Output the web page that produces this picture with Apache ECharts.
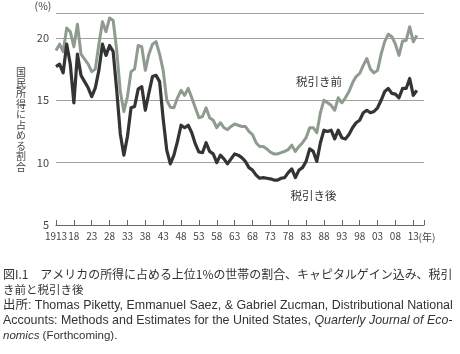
<!DOCTYPE html>
<html>
<head>
<meta charset="utf-8">
<script src="https://cdn.jsdelivr.net/npm/echarts@6/dist/echarts.min.js"></script>
<style>
html,body{margin:0;padding:0;background:#fff;}
#c{width:460px;height:354px;}
</style>
</head>
<body>
<div id="c"></div>
<script>
// ---- data ----
const startYear = 1913;
const years = [];
for (let y = 1913; y <= 2014; y++) years.push(y);

const preTax = [
  19.0, 19.5, 18.9, 20.8, 20.5, 19.3, 21.1, 18.7, 18.3, 17.9,
  17.3, 17.5, 19.5, 21.3, 20.5, 21.6, 21.4, 19.0, 15.7, 14.1,
  15.3, 17.3, 17.5, 19.4, 19.3, 17.4, 18.7, 19.5, 19.7, 18.7,
  17.4, 15.0, 14.45, 14.4, 15.2, 15.8, 15.4, 15.96, 15.2, 14.4,
  13.6, 13.7, 14.4, 13.6, 13.4, 12.8, 13.2, 12.8, 12.65, 12.9,
  13.1, 13.0, 12.9, 12.9, 12.5, 12.25, 11.6, 11.3, 11.3, 11.1,
  10.85, 10.7, 10.7, 10.8, 10.9, 11.05, 11.4, 10.9, 11.3, 11.6,
  12.0, 12.8, 12.8, 12.4, 14.0, 15.0, 14.8, 14.6, 14.2, 15.2,
  14.8, 15.2, 15.7, 16.4, 16.9, 17.15, 17.8, 18.35, 17.5, 17.2,
  17.4, 18.7, 19.7, 20.3, 20.1, 19.5, 18.6, 19.75, 19.8, 20.9,
  19.7, 20.2
];
const afterTax = [
  17.7, 17.9, 17.2, 19.5, 17.9, 14.8, 18.7, 17.0, 16.5, 16.0,
  15.3, 16.0, 17.4, 19.5, 18.6, 19.4, 18.9, 15.8, 12.3, 10.6,
  12.1, 14.4, 14.5, 15.9, 16.1, 14.2, 15.6, 16.9, 17.0, 16.5,
  13.5, 11.0, 9.9, 10.6, 11.7, 13.0, 12.8, 13.0, 12.4, 11.5,
  10.85, 10.8, 11.6, 10.9, 10.7, 10.0, 10.6, 10.3, 9.9, 10.3,
  10.7, 10.6, 10.4, 10.1, 9.6, 9.4, 9.0, 8.75, 8.8, 8.75,
  8.7, 8.6, 8.6, 8.75, 8.8, 9.2, 9.5, 8.8, 9.4, 9.6,
  10.1, 11.1, 10.9, 10.1, 11.6, 12.6, 12.5, 12.6, 11.9, 12.6,
  12.0, 11.9, 12.25, 12.8, 13.2, 13.4, 14.0, 14.2, 14.0, 14.1,
  14.4, 15.0, 15.7, 15.95, 15.55, 15.5, 15.2, 15.95, 15.95, 16.75,
  15.4, 15.8
];
const seriesNames = ['税引き前', '税引き後'];
const yTicks = [5, 10, 15, 20];
const yAxisTitle = '国民所得に占める割合';
const yUnit = '(%)';
const xUnit = '(年)';
const captionLines = [
  '図I.1　アメリカの所得に占める上位1%の世帯の割合、キャピタルゲイン込み、税引',
  'き前と税引き後',
  '出所: Thomas Piketty, Emmanuel Saez, & Gabriel Zucman, Distributional National',
  'Accounts: Methods and Estimates for the United States, ',
  'Quarterly Journal of Eco-',
  'nomics',
  ' (Forthcoming).'
];

// ---- helpers ----
const JP = '"Noto Sans CJK JP", sans-serif';
const LAT = '"Liberation Sans", Arial, "Noto Sans CJK JP", sans-serif';
const mctx = document.createElement('canvas').getContext('2d');
function tw(text, size, family, italic) {
  mctx.font = (italic ? 'italic ' : '') + size + 'px ' + family;
  return mctx.measureText(text).width;
}
function fitSize(base, width, target) {
  return Math.max(10.5, Math.min(13, base * target / width));
}
const xMaxOffset = 103;
const pts = (arr) => arr.map((v, i) => [years[i] - startYear, v]);

const chart = echarts.init(document.getElementById('c'), null, {renderer: 'canvas'});

const capColor = '#333';
const capX = 3, capTarget = 450;
const s1 = fitSize(11.5, tw(captionLines[0], 11.5, JP), capTarget);
const s3 = fitSize(11.5, tw(captionLines[2], 11.5, LAT), capTarget);
const w4 = tw(captionLines[3], 11.5, LAT) + tw(captionLines[4], 11.5, LAT, true);
const s4 = fitSize(11.5, w4, capTarget);

const graphics = [
  {type: 'text', x: 43, y: 6, style: {text: yUnit, align: 'center', verticalAlign: 'middle', fontSize: 10.5, fontFamily: JP, fill: '#444'}},
  {type: 'text', x: 21, y: 119.5, style: {text: yAxisTitle.split('').join('\n'), align: 'center', verticalAlign: 'middle', fontSize: 10, lineHeight: 10.5, fontFamily: JP, fill: '#444'}},
  {type: 'text', x: 319, y: 82, style: {text: seriesNames[0], align: 'center', verticalAlign: 'middle', fontSize: 11.5, fontFamily: JP, fill: '#333'}},
  {type: 'text', x: 313.5, y: 196, style: {text: seriesNames[1], align: 'center', verticalAlign: 'middle', fontSize: 11.5, fontFamily: JP, fill: '#333'}},
  {type: 'text', x: 427, y: 237, style: {text: xUnit, align: 'center', verticalAlign: 'middle', fontSize: 10, fontFamily: JP, fill: '#444'}},
  {type: 'text', x: capX, y: 274.7, style: {text: captionLines[0], align: 'left', verticalAlign: 'middle', fontSize: s1, fontFamily: JP, fill: capColor}},
  {type: 'text', x: capX, y: 290, style: {text: captionLines[1], align: 'left', verticalAlign: 'middle', fontSize: 11.5, fontFamily: JP, fill: capColor}},
  {type: 'text', x: capX, y: 305.3, style: {text: captionLines[2], align: 'left', verticalAlign: 'middle', fontSize: s3, fontFamily: LAT, fill: capColor}},
  {type: 'text', x: capX, y: 320.6, style: {
    text: '{n|' + captionLines[3] + '}{i|' + captionLines[4] + '}',
    align: 'left', verticalAlign: 'middle', fill: capColor,
    rich: {
      n: {fontSize: s4, fontFamily: LAT, fill: capColor},
      i: {fontSize: s4, fontFamily: LAT, fontStyle: 'italic', fill: capColor}
    }
  }},
  {type: 'text', x: capX, y: 336, style: {
    text: '{i|' + captionLines[5] + '}{n|' + captionLines[6] + '}',
    align: 'left', verticalAlign: 'middle', fill: capColor,
    rich: {
      n: {fontSize: 11.5, fontFamily: LAT, fill: capColor},
      i: {fontSize: 11.5, fontFamily: LAT, fontStyle: 'italic', fill: capColor}
    }
  }}
];

const option = {
  animation: false,
  backgroundColor: '#fff',
  grid: {left: 56, right: 36, top: 13, bottom: 129, containLabel: false},
  xAxis: {
    type: 'value',
    min: 0,
    max: xMaxOffset,
    interval: 5,
    axisLine: {show: true, lineStyle: {color: '#666', width: 1.2}},
    axisTick: {show: true, inside: true, length: 5, lineStyle: {color: '#666', width: 1}},
    splitLine: {show: false},
    axisLabel: {
      margin: 6,
      fontSize: 10,
      fontFamily: JP,
      color: '#444',
      showMinLabel: true,
      formatter: function (v) {
        if (v === 0) return String(startYear);
        if (v > 100) return '';
        return String((startYear + v) % 100).padStart(2, '0');
      }
    }
  },
  yAxis: {
    type: 'value',
    min: yTicks[0],
    max: 22,
    interval: 5,
    axisLine: {show: false},
    axisTick: {show: false},
    splitLine: {show: true, lineStyle: {color: '#a0a0a0', width: 1.1}},
    axisLabel: {
      margin: 7,
      fontSize: 11,
      fontFamily: JP,
      color: '#444',
      formatter: function (v) { return yTicks.indexOf(v) >= 0 ? String(v) : ''; }
    }
  },
  series: [
    {
      name: seriesNames[0], type: 'line', data: pts(preTax), symbol: 'none',
      lineStyle: {color: '#8f9b8e', width: 3, join: 'round'}, z: 2
    },
    {
      name: seriesNames[1], type: 'line', data: pts(afterTax), symbol: 'none',
      lineStyle: {color: '#343434', width: 3.2, join: 'round'}, z: 3
    }
  ],
  graphic: graphics
};
chart.setOption(option);
</script>
</body>
</html>
